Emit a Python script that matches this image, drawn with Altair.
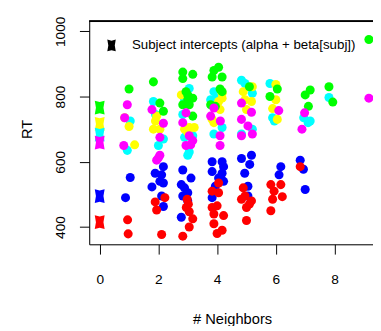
import altair as alt
import pandas as pd

subjects = ["1", "2", "3", "4", "5", "6"]
colors = ["#FF0000", "#FFFF00", "#00FF00", "#00FFFF", "#0000FF", "#FF00FF"]
intercepts = [415, 716, 766, 683, 495, 659]
legend_label = "Subject intercepts (alpha + beta[subj])"

red_x = [0.95, 0.97, 2.22, 1.89, 1.94, 2.11, 2.98, 3.02, 2.95, 3.05, 3.17, 3.05, 2.83, 3.83, 4.05, 3.83, 4.0, 3.89, 4.22, 3.89, 4.17, 4.0, 4.05, 4.89, 4.83, 5.17, 5.0, 5.0, 4.95, 5.1, 5.83, 6.17, 5.94, 5.89, 6.22, 5.83, 6.83]
red_y = [422, 379, 490, 477, 452, 377, 485, 470, 460, 447, 425, 400, 372, 510, 505, 460, 465, 440, 435, 410, 390, 380, 535, 520, 485, 480, 460, 420, 495, 470, 530, 530, 510, 485, 493, 450, 585]

yellow_x = [0.85, 1.0, 1.19, 1.94, 1.83, 2.05, 1.9, 2.78, 3.05, 3.22, 2.89, 3.0, 4.17, 4.1, 3.89, 4.17, 4.05, 3.83, 4.89, 5.17, 5.0, 5.2, 4.95, 6.0, 6.0, 5.89, 6.05]
yellow_y = [735, 708, 652, 740, 700, 700, 725, 805, 705, 705, 700, 690, 795, 760, 720, 810, 785, 730, 815, 785, 760, 830, 790, 837, 790, 763, 730]

green_x = [1.0, 1.83, 2.05, 2.17, 2.83, 3.17, 2.83, 2.94, 3.0, 3.17, 2.83, 3.05, 3.17, 3.0, 3.89, 4.05, 3.83, 4.17, 4.1, 4.17, 3.78, 3.94, 5.1, 6.05, 5.8, 7.0, 7.17, 7.11, 7.81, 7.94, 9.17]
green_y = [823, 845, 780, 755, 875, 868, 855, 815, 805, 795, 775, 775, 740, 790, 880, 890, 860, 860, 823, 815, 775, 770, 830, 823, 800, 805, 820, 770, 830, 783, 975]

cyan_x = [1.04, 0.94, 1.83, 2.17, 2.0, 1.9, 3.05, 2.89, 2.83, 2.89, 3.05, 3.0, 3.17, 3.89, 3.83, 4.17, 3.89, 4.0, 3.78, 4.83, 4.95, 5.2, 4.83, 5.2, 5.8, 5.89, 5.95, 6.95, 7.17, 7.1, 7.81]
cyan_y = [725, 635, 785, 670, 650, 745, 825, 790, 745, 675, 630, 620, 680, 815, 775, 705, 685, 800, 790, 850, 840, 810, 685, 700, 840, 735, 725, 735, 725, 720, 797]

blue_x = [1.04, 0.88, 2.17, 1.89, 2.11, 2.05, 2.17, 1.78, 2.11, 2.17, 2.83, 3.11, 2.78, 2.89, 3.0, 2.83, 3.0, 2.78, 3.83, 4.17, 4.22, 3.83, 4.17, 4.22, 3.94, 3.83, 4.05, 5.17, 4.83, 5.11, 4.94, 5.05, 5.05, 6.17, 6.11, 6.83, 6.94, 7.0]
blue_y = [552, 490, 585, 565, 560, 540, 535, 523, 495, 463, 575, 550, 530, 520, 505, 495, 480, 430, 600, 600, 585, 570, 565, 540, 525, 490, 550, 620, 610, 592, 565, 525, 495, 585, 560, 605, 577, 515]

magenta_x = [0.85, 0.94, 0.82, 1.78, 2.17, 2.05, 2.05, 1.94, 2.0, 2.94, 2.83, 3.05, 2.94, 3.1, 3.17, 3.78, 4.11, 3.89, 4.1, 4.1, 4.83, 5.17, 4.83, 5.05, 4.83, 5.2, 6.1, 6.98, 6.89, 9.17]
magenta_y = [735, 775, 650, 760, 718, 675, 620, 605, 612, 750, 720, 680, 650, 652, 665, 740, 725, 765, 680, 650, 780, 752, 730, 710, 680, 685, 757, 750, 700, 795]

series = [
    ("5", blue_x, blue_y),
    ("1", red_x, red_y),
    ("4", cyan_x, cyan_y),
    ("2", yellow_x, yellow_y),
    ("3", green_x, green_y),
    ("6", magenta_x, magenta_y),
]
rows = []
for s, xs, ys in series:
    for xv, yv in zip(xs, ys):
        rows.append({"subj": s, "neighbors": xv, "RT": yv})
points_df = pd.DataFrame(rows)

stars_df = pd.DataFrame({
    "subj": subjects,
    "neighbors": [0] * len(subjects),
    "RT": intercepts,
    "label": [legend_label] * len(subjects),
})

star_path = "M-0.72,-1L0,-0.82L0.72,-1L0.55,0L0.72,1L0,0.82L-0.72,1L-0.55,0Z"
FONT = "Liberation Sans"
W, H = 290, 228

xscale = alt.Scale(domain=[-0.357, 9.31], nice=False, zero=False)
yscale = alt.Scale(domain=[347, 1031], nice=False, zero=False)
cscale = alt.Scale(domain=subjects, range=colors)

xaxis = alt.Axis(values=[0, 2, 4, 6, 8], title="# Neighbors", grid=False, format="d",
                 tickSize=10, labelPadding=19, labelFontSize=14, titleFontSize=15,
                 titleX=146, titleY=76, titleBaseline="middle",
                 domainColor="black", tickColor="black", labelColor="black",
                 titleColor="black", titleFontWeight="normal", labelFont=FONT, titleFont=FONT)
yaxis = alt.Axis(values=[400, 500, 600, 700, 800, 900, 1000], title="RT", grid=False, format="d",
                 labelExpr="datum.value % 200 == 0 ? datum.label : ''",
                 tickSize=10, labelPadding=12, labelFontSize=14, titleFontSize=15,
                 labelAngle=270, labelAlign="center", labelBaseline="bottom",
                 titleAngle=270, titleX=-64, titleY=110, titleBaseline="middle", titleAlign="center",
                 domainColor="black", tickColor="black", labelColor="black",
                 titleColor="black", titleFontWeight="normal", labelFont=FONT, titleFont=FONT)

pts = alt.Chart(points_df).mark_circle(size=85, opacity=1).encode(
    x=alt.X("neighbors:Q", scale=xscale, axis=xaxis),
    y=alt.Y("RT:Q", scale=yscale, axis=yaxis),
    color=alt.Color("subj:N", scale=cscale, legend=None),
)

stars = alt.Chart(stars_df).mark_point(filled=True, opacity=1, size=196, strokeWidth=0).encode(
    x=alt.X("neighbors:Q", scale=xscale),
    y=alt.Y("RT:Q", scale=yscale),
    color=alt.Color("subj:N", scale=cscale, legend=None),
    shape=alt.Shape("label:N", scale=alt.Scale(range=[star_path]),
                    legend=alt.Legend(title=None, orient="none", legendX=16, legendY=18,
                                      symbolSize=144, symbolFillColor="black",
                                      symbolStrokeColor="black", symbolStrokeWidth=0,
                                      labelFont=FONT, labelFontSize=13.6, labelColor="black",
                                      labelOffset=14, labelLimit=0, padding=0)),
)

top_rule = alt.Chart(stars_df).mark_rule(color="black", strokeWidth=1).encode(
    x=alt.value(0), x2=alt.value(W), y=alt.value(0)
)

chart = alt.layer(pts, stars, top_rule).properties(
    width=W, height=H,
    autosize=alt.AutoSizeParams(type="none"),
    padding={"left": 83, "top": 10, "right": 0, "bottom": 80},
).configure_view(stroke=None).configure(background="white")

chart.save("out.html", embed_options={"renderer": "svg", "actions": False})
